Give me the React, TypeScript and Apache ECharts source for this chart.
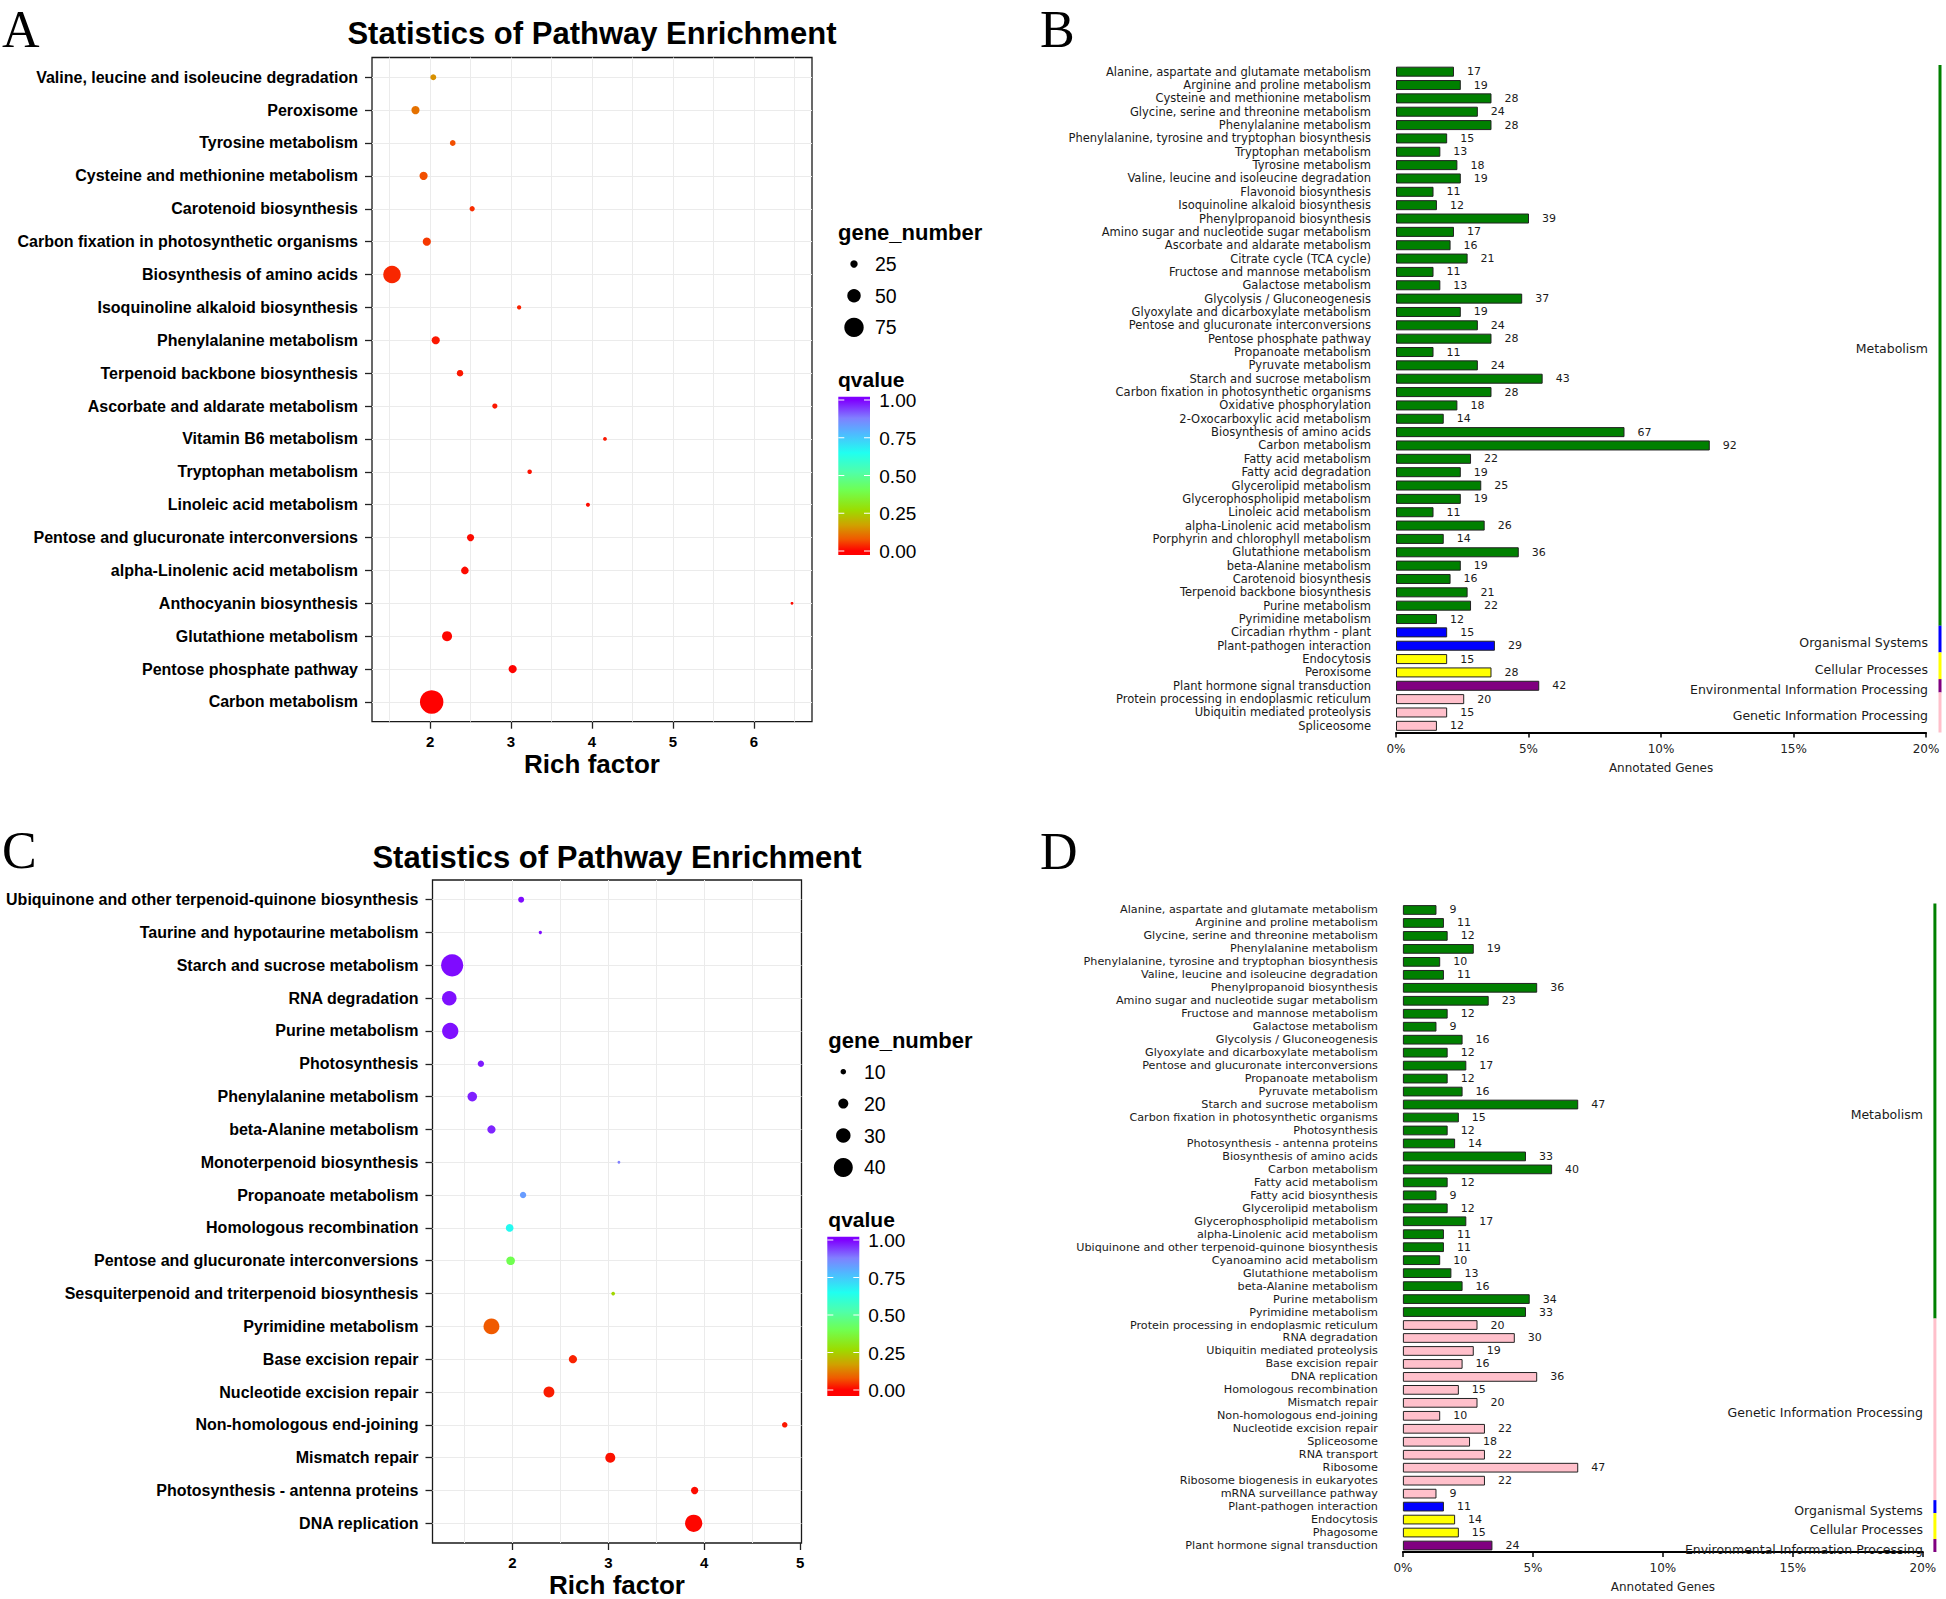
import React, { useEffect, useRef } from "react";
import * as echarts from "echarts";

// ================= Panel A (enrichment scatter) =================
const pathwaysA = [
  "Valine, leucine and isoleucine degradation",
  "Peroxisome",
  "Tyrosine metabolism",
  "Cysteine and methionine metabolism",
  "Carotenoid biosynthesis",
  "Carbon fixation in photosynthetic organisms",
  "Biosynthesis of amino acids",
  "Isoquinoline alkaloid biosynthesis",
  "Phenylalanine metabolism",
  "Terpenoid backbone biosynthesis",
  "Ascorbate and aldarate metabolism",
  "Vitamin B6 metabolism",
  "Tryptophan metabolism",
  "Linoleic acid metabolism",
  "Pentose and glucuronate interconversions",
  "alpha-Linolenic acid metabolism",
  "Anthocyanin biosynthesis",
  "Glutathione metabolism",
  "Pentose phosphate pathway",
  "Carbon metabolism",
];
const richA = [2.04, 1.82, 2.28, 1.92, 2.52, 1.96, 1.53, 3.1, 2.07, 2.37, 2.8, 4.16, 3.23, 3.95, 2.5, 2.43, 6.47, 2.21, 3.02, 2.02];
const genesA = [19, 28, 18, 28, 16, 28, 67, 12, 28, 21, 16, 10, 13, 11, 24, 26, 6, 36, 28, 92];
const qvalA = [0.15, 0.11, 0.07, 0.07, 0.04, 0.05, 0.035, 0.03, 0.02, 0.02, 0.02, 0.02, 0.015, 0.01, 0.01, 0.01, 0.01, 0.005, 0.003, 0.001];

// ================= Panel C (enrichment scatter) =================
const pathwaysC = [
  "Ubiquinone and other terpenoid-quinone biosynthesis",
  "Taurine and hypotaurine metabolism",
  "Starch and sucrose metabolism",
  "RNA degradation",
  "Purine metabolism",
  "Photosynthesis",
  "Phenylalanine metabolism",
  "beta-Alanine metabolism",
  "Monoterpenoid biosynthesis",
  "Propanoate metabolism",
  "Homologous recombination",
  "Pentose and glucuronate interconversions",
  "Sesquiterpenoid and triterpenoid biosynthesis",
  "Pyrimidine metabolism",
  "Base excision repair",
  "Nucleotide excision repair",
  "Non-homologous end-joining",
  "Mismatch repair",
  "Photosynthesis - antenna proteins",
  "DNA replication",
];
const richC = [2.09, 2.29, 1.37, 1.34, 1.35, 1.67, 1.58, 1.78, 3.11, 2.11, 1.97, 1.98, 3.05, 1.78, 2.63, 2.38, 4.84, 3.02, 3.9, 3.89];
const genesC = [11, 5, 47, 30, 34, 12, 19, 16, 4, 12, 15, 17, 6, 33, 16, 22, 10, 20, 14, 36];
const qvalC = [0.99, 0.99, 0.99, 0.985, 0.985, 0.975, 0.97, 0.965, 0.88, 0.83, 0.66, 0.4, 0.26, 0.08, 0.03, 0.025, 0.02, 0.015, 0.01, 0.005];

// legend breaks / ticks
const sizeBreaksA = [25, 50, 75];
const sizeBreaksC = [10, 20, 30, 40];
const qBreaks = [0, 0.25, 0.5, 0.75, 1];
const xTicksA = [2, 3, 4, 5, 6];
const xTicksC = [2, 3, 4, 5];
const xGridA = [1.5, 2, 2.5, 3, 3.5, 4, 4.5, 5, 5.5, 6, 6.5];
const xGridC = [1.5, 2, 2.5, 3, 3.5, 4, 4.5];

// ================= Panel B (KEGG classification bars) =================
const pathwaysB = [
  "Alanine, aspartate and glutamate metabolism",
  "Arginine and proline metabolism",
  "Cysteine and methionine metabolism",
  "Glycine, serine and threonine metabolism",
  "Phenylalanine metabolism",
  "Phenylalanine, tyrosine and tryptophan biosynthesis",
  "Tryptophan metabolism",
  "Tyrosine metabolism",
  "Valine, leucine and isoleucine degradation",
  "Flavonoid biosynthesis",
  "Isoquinoline alkaloid biosynthesis",
  "Phenylpropanoid biosynthesis",
  "Amino sugar and nucleotide sugar metabolism",
  "Ascorbate and aldarate metabolism",
  "Citrate cycle (TCA cycle)",
  "Fructose and mannose metabolism",
  "Galactose metabolism",
  "Glycolysis / Gluconeogenesis",
  "Glyoxylate and dicarboxylate metabolism",
  "Pentose and glucuronate interconversions",
  "Pentose phosphate pathway",
  "Propanoate metabolism",
  "Pyruvate metabolism",
  "Starch and sucrose metabolism",
  "Carbon fixation in photosynthetic organisms",
  "Oxidative phosphorylation",
  "2-Oxocarboxylic acid metabolism",
  "Biosynthesis of amino acids",
  "Carbon metabolism",
  "Fatty acid metabolism",
  "Fatty acid degradation",
  "Glycerolipid metabolism",
  "Glycerophospholipid metabolism",
  "Linoleic acid metabolism",
  "alpha-Linolenic acid metabolism",
  "Porphyrin and chlorophyll metabolism",
  "Glutathione metabolism",
  "beta-Alanine metabolism",
  "Carotenoid biosynthesis",
  "Terpenoid backbone biosynthesis",
  "Purine metabolism",
  "Pyrimidine metabolism",
  "Circadian rhythm - plant",
  "Plant-pathogen interaction",
  "Endocytosis",
  "Peroxisome",
  "Plant hormone signal transduction",
  "Protein processing in endoplasmic reticulum",
  "Ubiquitin mediated proteolysis",
  "Spliceosome",
];
const countsB = [17, 19, 28, 24, 28, 15, 13, 18, 19, 11, 12, 39, 17, 16, 21, 11, 13, 37, 19, 24, 28, 11, 24, 43, 28, 18, 14, 67, 92, 22, 19, 25, 19, 11, 26, 14, 36, 19, 16, 21, 22, 12, 15, 29, 15, 28, 42, 20, 15, 12];
const classNamesB = ["Metabolism", "Organismal Systems", "Cellular Processes", "Environmental Information Processing", "Genetic Information Processing"];
const classSizesB = [42, 2, 2, 1, 3];
const totalB = 777;

// ================= Panel D (KEGG classification bars) =================
const pathwaysD = [
  "Alanine, aspartate and glutamate metabolism",
  "Arginine and proline metabolism",
  "Glycine, serine and threonine metabolism",
  "Phenylalanine metabolism",
  "Phenylalanine, tyrosine and tryptophan biosynthesis",
  "Valine, leucine and isoleucine degradation",
  "Phenylpropanoid biosynthesis",
  "Amino sugar and nucleotide sugar metabolism",
  "Fructose and mannose metabolism",
  "Galactose metabolism",
  "Glycolysis / Gluconeogenesis",
  "Glyoxylate and dicarboxylate metabolism",
  "Pentose and glucuronate interconversions",
  "Propanoate metabolism",
  "Pyruvate metabolism",
  "Starch and sucrose metabolism",
  "Carbon fixation in photosynthetic organisms",
  "Photosynthesis",
  "Photosynthesis - antenna proteins",
  "Biosynthesis of amino acids",
  "Carbon metabolism",
  "Fatty acid metabolism",
  "Fatty acid biosynthesis",
  "Glycerolipid metabolism",
  "Glycerophospholipid metabolism",
  "alpha-Linolenic acid metabolism",
  "Ubiquinone and other terpenoid-quinone biosynthesis",
  "Cyanoamino acid metabolism",
  "Glutathione metabolism",
  "beta-Alanine metabolism",
  "Purine metabolism",
  "Pyrimidine metabolism",
  "Protein processing in endoplasmic reticulum",
  "RNA degradation",
  "Ubiquitin mediated proteolysis",
  "Base excision repair",
  "DNA replication",
  "Homologous recombination",
  "Mismatch repair",
  "Non-homologous end-joining",
  "Nucleotide excision repair",
  "Spliceosome",
  "RNA transport",
  "Ribosome",
  "Ribosome biogenesis in eukaryotes",
  "mRNA surveillance pathway",
  "Plant-pathogen interaction",
  "Endocytosis",
  "Phagosome",
  "Plant hormone signal transduction",
];
const countsD = [9, 11, 12, 19, 10, 11, 36, 23, 12, 9, 16, 12, 17, 12, 16, 47, 15, 12, 14, 33, 40, 12, 9, 12, 17, 11, 11, 10, 13, 16, 34, 33, 20, 30, 19, 16, 36, 15, 20, 10, 22, 18, 22, 47, 22, 9, 11, 14, 15, 24];
const classNamesD = ["Metabolism", "Genetic Information Processing", "Organismal Systems", "Cellular Processes", "Environmental Information Processing"];
const classSizesD = [32, 14, 1, 2, 1];
const totalD = 697;

// ================= styles =================
const FONT_GG = "'Liberation Sans', Arial, Helvetica, sans-serif";
const FONT_BAR = "'DejaVu Sans', Verdana, sans-serif";
const FONT_SERIF = "'Liberation Serif', 'Times New Roman', serif";

const classColors: Record<string, string> = {
  Metabolism: "#008000",
  "Organismal Systems": "#0000FF",
  "Cellular Processes": "#FFFF00",
  "Environmental Information Processing": "#800080",
  "Genetic Information Processing": "#FFC0CB",
};

const qStops: Array<[number, string]> = [
  [0.0, "#FF0000"],
  [0.08, "#F05A00"],
  [0.17, "#D0A000"],
  [0.27, "#9CDC00"],
  [0.4, "#70FF50"],
  [0.52, "#50FFA8"],
  [0.65, "#20FFF0"],
  [0.78, "#50B8FF"],
  [0.88, "#8080FF"],
  [1.0, "#7F00FF"],
];

function hex2rgb(h: string) {
  const n = parseInt(h.slice(1), 16);
  return [(n >> 16) & 255, (n >> 8) & 255, n & 255];
}
function qColor(q: number) {
  const v = Math.max(0, Math.min(1, q));
  for (let i = 1; i < qStops.length; i++) {
    if (v <= qStops[i][0]) {
      const [a, ca] = qStops[i - 1];
      const [b, cb] = qStops[i];
      const t = (v - a) / (b - a);
      const A = hex2rgb(ca);
      const B = hex2rgb(cb);
      const c = A.map((x, k) => Math.round(x + (B[k] - x) * t));
      return `rgb(${c[0]},${c[1]},${c[2]})`;
    }
  }
  return qStops[qStops.length - 1][1];
}

const sizeA = (n: number) => 0.24 * n + 1.4;
const sizeC = (n: number) => 0.45 * n + 1.0;

function expandRange(vals: number[], mult = 0.05) {
  const lo = Math.min(...vals);
  const hi = Math.max(...vals);
  const r = hi - lo;
  return [lo - r * mult, hi + r * mult];
}

function rowClassColors(names: string[], sizes: number[]) {
  const out: string[] = [];
  sizes.forEach((s, k) => {
    for (let i = 0; i < s; i++) out.push(classColors[names[k]]);
  });
  return out;
}

// ================= layout =================
const L = {
  A: { left: 372, top: 57.5, width: 440, height: 664.2 },
  C: { left: 432.5, top: 880, width: 369, height: 671 },
  B: { left: 1396, top: 65, width: 530, height: 667.5 },
  D: { left: 1402.9, top: 903.5, width: 520, height: 648.5 },
};

function scatterAxes(gridIndex: number, xr: number[], xTicks: number[], names: string[]) {
  const idx = names.map((_, i) => i);
  const x = {
    gridIndex,
    type: "value",
    min: xr[0],
    max: xr[1],
    axisLine: { show: false, onZero: false },
    splitLine: { show: false },
    axisTick: { show: true, length: 7, customValues: xTicks, lineStyle: { color: "#222", width: 1.3 } },
    axisLabel: { customValues: xTicks, fontSize: 15, fontWeight: "bold", color: "#000", fontFamily: FONT_GG, margin: 12 },
    name: "Rich factor",
    nameLocation: "middle",
    nameGap: 29,
    nameTextStyle: { fontSize: 26, fontWeight: "bold", color: "#000", fontFamily: FONT_GG },
  };
  const y = {
    gridIndex,
    type: "value",
    inverse: true,
    min: -0.6,
    max: names.length - 0.4,
    axisLine: { show: false, onZero: false },
    splitLine: { show: false },
    axisTick: { show: true, length: 7, customValues: idx, lineStyle: { color: "#222", width: 1.3 } },
    axisLabel: {
      customValues: idx,
      formatter: (v: number) => names[Math.round(v)] ?? "",
      fontSize: 16,
      fontWeight: "bold",
      color: "#000",
      fontFamily: FONT_GG,
      margin: 14,
    },
  };
  return { x, y };
}

function gridLineSeries(axisIdx: number, xVals: number[], nRows: number) {
  const rows = Array.from({ length: nRows }, (_, i) => i);
  return {
    type: "scatter",
    xAxisIndex: axisIdx,
    yAxisIndex: axisIdx,
    data: [],
    z: 1,
    silent: true,
    markLine: {
      z: 1,
      silent: true,
      animation: false,
      symbol: ["none", "none"],
      label: { show: false },
      emphasis: { disabled: true },
      lineStyle: { color: "#EBEBEB", width: 1, type: "solid" },
      data: [...xVals.map((v) => ({ xAxis: v })), ...rows.map((r) => ({ yAxis: r }))],
    },
  };
}

function scatterSeries(axisIdx: number, rich: number[], genes: number[], qv: number[], sizeFn: (n: number) => number) {
  return {
    type: "scatter",
    xAxisIndex: axisIdx,
    yAxisIndex: axisIdx,
    z: 6,
    silent: true,
    symbol: "circle",
    symbolSize: (v: number[]) => sizeFn(v[2]),
    data: rich.map((x, i) => ({ value: [x, i, genes[i], qv[i]], itemStyle: { color: qColor(qv[i]), opacity: 1 } })),
  };
}

function barAxes(gridIndex: number, names: string[], labelSize: number) {
  const x = {
    gridIndex,
    type: "value",
    min: 0,
    max: 20,
    interval: 5,
    axisLine: { show: true, onZero: false, lineStyle: { color: "#000", width: 2 } },
    axisTick: { show: true, length: 5, lineStyle: { color: "#000", width: 1.5 } },
    axisLabel: { formatter: "{value}%", fontSize: 12, color: "#222", fontFamily: FONT_BAR, margin: 10 },
    splitLine: { show: false },
    name: "Annotated Genes",
    nameLocation: "middle",
    nameGap: 29,
    nameTextStyle: { fontSize: 12, color: "#222", fontFamily: FONT_BAR },
  };
  const y = {
    gridIndex,
    type: "category",
    data: names,
    inverse: true,
    axisLine: { show: false },
    axisTick: { show: false },
    splitLine: { show: false },
    axisLabel: { interval: 0, fontSize: labelSize, color: "#1a1a1a", fontFamily: FONT_BAR, margin: 25 },
  };
  return { x, y };
}

function barSeries(axisIdx: number, counts: number[], total: number, colors: string[]) {
  return {
    type: "bar",
    xAxisIndex: axisIdx,
    yAxisIndex: axisIdx,
    barWidth: "75%",
    silent: true,
    data: counts.map((n, i) => ({ value: (n / total) * 100, itemStyle: { color: colors[i] } })),
    itemStyle: { borderColor: "#222", borderWidth: 1 },
    label: {
      show: true,
      position: "right",
      distance: 13,
      formatter: (p: any) => String(counts[p.dataIndex]),
      fontSize: 11,
      color: "#1a1a1a",
      fontFamily: FONT_BAR,
    },
  };
}

function classSeries(axisIdx: number, names: string[], sizes: number[], stripGap: number, labelGap: number) {
  const data: number[][] = [];
  let s = 0;
  sizes.forEach((n, k) => {
    data.push([0, 0, s, s + n - 1, k]);
    s += n;
  });
  return {
    type: "custom",
    xAxisIndex: axisIdx,
    yAxisIndex: axisIdx,
    silent: true,
    clip: false,
    z: 4,
    data,
    renderItem: (params: any, api: any) => {
      const s0 = api.value(2);
      const e0 = api.value(3);
      const k = api.value(4);
      const band = api.size([0, 1])[1];
      const y0 = api.coord([0, s0])[1] - band / 2;
      const y1 = api.coord([0, e0])[1] + band / 2;
      const cs = params.coordSys;
      const xr = cs.x + cs.width;
      const name = names[k];
      return {
        type: "group",
        children: [
          {
            type: "rect",
            shape: { x: xr + stripGap - 1.5, y: y0, width: 3, height: y1 - y0 },
            style: { fill: classColors[name] },
          },
          {
            type: "text",
            style: {
              text: name,
              x: xr + labelGap,
              y: (y0 + y1) / 2 + 3.5,
              align: "right",
              textAlign: "right",
              verticalAlign: "middle",
              textVerticalAlign: "middle",
              fontSize: 12.5,
              fontFamily: FONT_BAR,
              fill: "#1a1a1a",
            },
          },
        ],
      };
    },
  };
}

function txt(x: number, y: number, text: string, size: number, opts: any = {}) {
  return {
    type: "text",
    x,
    y,
    silent: true,
    style: {
      text,
      fontSize: size,
      fontFamily: opts.family ?? FONT_GG,
      fontWeight: opts.weight ?? "normal",
      fill: "#000",
      align: opts.align ?? "left",
      textAlign: opts.align ?? "left",
      verticalAlign: "middle",
      textVerticalAlign: "middle",
    },
  };
}

function sizeLegend(x0: number, yTitle: number, breaks: number[], sizeFn: (n: number) => number, xc: number, y0: number, step: number, xl: number) {
  const els: any[] = [txt(x0, yTitle, "gene_number", 22, { weight: "bold" })];
  breaks.forEach((b, i) => {
    const y = y0 + i * step;
    els.push({ type: "circle", silent: true, shape: { cx: xc, cy: y, r: sizeFn(b) / 2 }, style: { fill: "#000" } });
    els.push(txt(xl, y, String(b), 19.5));
  });
  return els;
}

function colorbar(x0: number, yTitle: number, bx: number, bw: number, top: number, bottom: number, tTop: number, tBottom: number, xl: number) {
  const h = bottom - top;
  const yOf = (v: number) => tBottom - v * (tBottom - tTop);
  const stops: any[] = [];
  stops.push({ offset: 0, color: qColor(1) });
  [...qStops].reverse().forEach(([v, c]) => {
    stops.push({ offset: (yOf(v) - top) / h, color: c });
  });
  stops.push({ offset: 1, color: qColor(0) });
  const els: any[] = [txt(x0, yTitle, "qvalue", 21, { weight: "bold" })];
  els.push({
    type: "rect",
    silent: true,
    shape: { x: bx, y: top, width: bw, height: h },
    style: { fill: new echarts.graphic.LinearGradient(0, 0, 0, 1, stops) },
  });
  qBreaks.forEach((b) => {
    const y = yOf(b);
    els.push({ type: "line", silent: true, shape: { x1: bx, y1: y, x2: bx + 6, y2: y }, style: { stroke: "#fff", lineWidth: 1 } });
    els.push({ type: "line", silent: true, shape: { x1: bx + bw - 6, y1: y, x2: bx + bw, y2: y }, style: { stroke: "#fff", lineWidth: 1 } });
    els.push(txt(xl, y + 0.5, b.toFixed(2), 19));
  });
  return els;
}

function buildOption() {
  const xrA = expandRange(richA);
  const xrC = expandRange(richC);
  const axA = scatterAxes(0, xrA, xTicksA, pathwaysA);
  const axC = scatterAxes(1, xrC, xTicksC, pathwaysC);
  const axB = barAxes(2, pathwaysB, 11.5);
  const axD = barAxes(3, pathwaysD, 11.2);
  const colorsB = rowClassColors(classNamesB, classSizesB);
  const colorsD = rowClassColors(classNamesD, classSizesD);

  const gridStyle = { show: true, borderColor: "#1a1a1a", borderWidth: 1.3, backgroundColor: "#fff" };

  const graphic: any[] = [
    txt(2, 29, "A", 52, { family: FONT_SERIF }),
    txt(1040, 29, "B", 52, { family: FONT_SERIF }),
    txt(2, 850, "C", 52, { family: FONT_SERIF }),
    txt(1040, 851, "D", 52, { family: FONT_SERIF }),
    txt(L.A.left + L.A.width / 2, 33, "Statistics of Pathway Enrichment", 31, { weight: "bold", align: "center" }),
    txt(L.C.left + L.C.width / 2, 857, "Statistics of Pathway Enrichment", 31, { weight: "bold", align: "center" }),
    ...sizeLegend(838, 232, sizeBreaksA, sizeA, 854, 264, 31.7, 875),
    ...colorbar(838, 379.5, 838.3, 31.7, 396.7, 555, 400, 551, 879.3),
    ...sizeLegend(828.3, 1040.5, sizeBreaksC, sizeC, 843.3, 1071.7, 31.9, 864),
    ...colorbar(828.3, 1219.5, 827.3, 32, 1236.7, 1396, 1240, 1390, 868.3),
  ];

  return {
    animation: false,
    backgroundColor: "#fff",
    grid: [
      { ...L.A, ...gridStyle },
      { ...L.C, ...gridStyle },
      { ...L.B, show: false },
      { ...L.D, show: false },
    ],
    xAxis: [axA.x, axC.x, axB.x, axD.x],
    yAxis: [axA.y, axC.y, axB.y, axD.y],
    series: [
      gridLineSeries(0, xGridA, pathwaysA.length),
      gridLineSeries(1, xGridC, pathwaysC.length),
      scatterSeries(0, richA, genesA, qvalA, sizeA),
      scatterSeries(1, richC, genesC, qvalC, sizeC),
      barSeries(2, countsB, totalB, colorsB),
      barSeries(3, countsD, totalD, colorsD),
      classSeries(2, classNamesB, classSizesB, 14, 2),
      classSeries(3, classNamesD, classSizesD, 12, 0),
    ],
    graphic,
  };
}

export default function App() {
  const ref = useRef<HTMLDivElement>(null);
  useEffect(() => {
    if (!ref.current) return;
    const chart = echarts.init(ref.current, null, { renderer: "svg" });
    chart.setOption(buildOption() as any);
    return () => chart.dispose();
  }, []);
  return (
    <div
      ref={ref}
      style={{ position: "absolute", left: 0, top: 0, width: 1946, height: 1599, background: "#fff" }}
    />
  );
}
